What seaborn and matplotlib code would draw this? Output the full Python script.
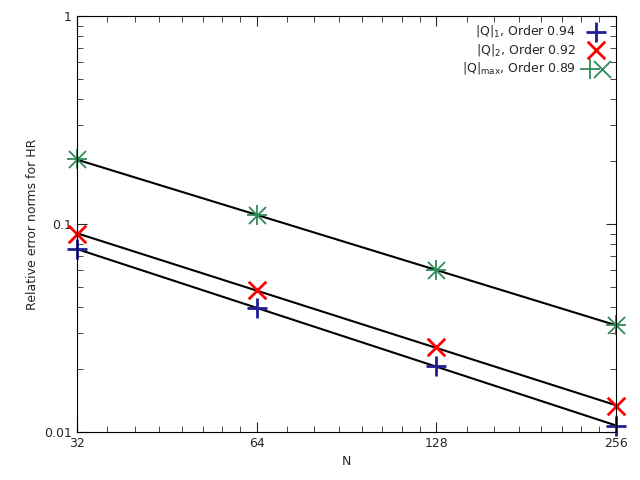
import numpy as np
import matplotlib
matplotlib.use("Agg")
import matplotlib.pyplot as plt
from matplotlib.legend_handler import HandlerTuple
import seaborn as sns

N = [32, 64, 128, 256]
q1 = [0.0758, 0.0394, 0.0208, 0.0107]
q2 = [0.0895, 0.0482, 0.0257, 0.0133]
qmax = [0.205, 0.110, 0.060, 0.0327]
labels = [r"$|\mathrm{Q}|_1$, Order 0.94", r"$|\mathrm{Q}|_2$, Order 0.92",
          r"$|\mathrm{Q}|_{\max}$, Order 0.89"]

sns.set_style("white")
fig = plt.figure(figsize=(6.4, 4.8), dpi=100)
ax = fig.add_axes([0.12, 0.1, 0.8425, 0.8667])

handles = []
series = [(q1, "+", "#1f1f8f"), (q2, "x", "red"), (qmax, None, "#2e8b57")]
for vals, m, c in series:
    # least-squares fit line in log-log space
    p = np.polyfit(np.log(N), np.log(vals), 1)
    ax.plot(N, np.exp(np.polyval(p, np.log(N))), color="black", lw=1.5, zorder=1)
    if m is None:
        h1 = ax.scatter(N, vals, marker="+", s=220, color=c, linewidths=1.3, zorder=2, clip_on=False)
        h2 = ax.scatter(N, vals, marker="x", s=150, color=c, linewidths=1.3, zorder=2, clip_on=False)
        handles.append((h1, h2))
    else:
        h = ax.scatter(N, vals, marker=m, s=220 if m == "+" else 160, color=c,
                       linewidths=2, zorder=2, clip_on=False)
        handles.append(h)

ax.set_xscale("log", base=2)
ax.set_yscale("log")
ax.set_xlim(32, 256)
ax.set_ylim(0.01, 1)
ax.set_xticks(N)
ax.set_xticklabels([str(n) for n in N])
ax.set_yticks([0.01, 0.1, 1])
ax.set_yticklabels(["0.01", "0.1", "1"])
ax.xaxis.set_minor_locator(matplotlib.ticker.LogLocator(base=2, subs=np.arange(1, 2, 0.125)))
ax.xaxis.set_minor_formatter(matplotlib.ticker.NullFormatter())
ax.yaxis.set_minor_formatter(matplotlib.ticker.NullFormatter())
ax.tick_params(which="both", direction="in", top=True, right=True, left=True, bottom=True, labelsize=9)
ax.tick_params(which="major", length=7)
ax.tick_params(which="minor", length=4)
for s in ax.spines.values():
    s.set_color("black")
ax.set_xlabel("N", fontsize=9)
ax.set_ylabel("Relative error norms for HR", fontsize=9)
ax.legend(handles, labels, loc="upper right", markerfirst=False, frameon=False, fontsize=9,
          handletextpad=0.6, borderaxespad=0.2, labelspacing=0.2,
          handler_map={tuple: HandlerTuple(ndivide=None, pad=0)})
fig.savefig("out.png")
